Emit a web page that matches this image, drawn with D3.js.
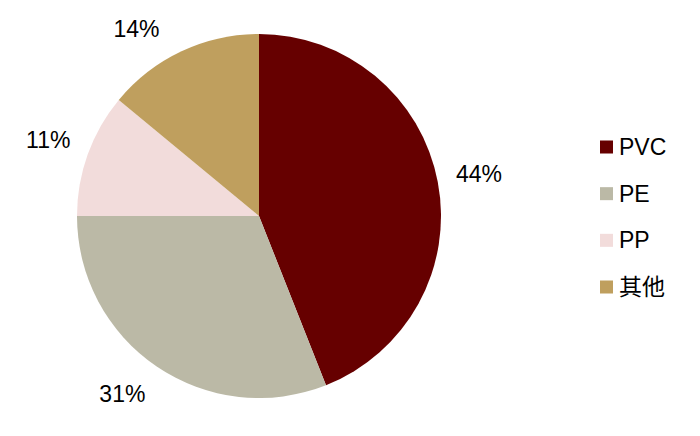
<!DOCTYPE html>
<html>
<head>
<meta charset="utf-8">
<script src="https://cdn.jsdelivr.net/npm/d3@7"></script>
<style>
  body { margin: 0; background: #fff; }
  text { font-family: "Liberation Sans", Arial, "Noto Sans CJK SC", sans-serif; }
</style>
</head>
<body>
<svg id="chart" width="700" height="436"></svg>
<script>
// chart data
var categories = ["PVC", "PE", "PP", "其他"];
var shares = [44, 31, 11, 14];
var colors = ["#660000", "#bbb9a6", "#f2dcdb", "#bf9f5e"];

var svg = d3.select("#chart");
var cx = 259, cy = 216, radius = 182;

var pie = d3.pie().sort(null).value(function(d) { return d; });
var arcs = pie(shares);
var arc = d3.arc().innerRadius(0).outerRadius(radius);

// label centres sit on a circle; slide them round if they would leave the plot area
var labelR = 224, labelTop = 28.5 - cy, labelBottom = 393.5 - cy;
function labelPos(d) {
  var a = (d.startAngle + d.endAngle) / 2;
  var y = -Math.cos(a) * labelR;
  if (y < labelTop || y > labelBottom) {
    y = Math.max(labelTop, Math.min(labelBottom, y));
    var c = -y / labelR, s = Math.sqrt(1 - c * c) * (Math.sin(a) < 0 ? -1 : 1);
    a = Math.atan2(s, c);
  }
  return [Math.sin(a) * labelR, -Math.cos(a) * labelR];
}

var g = svg.append("g").attr("transform", "translate(" + cx + "," + cy + ")");

g.selectAll("path")
  .data(arcs)
  .enter()
  .append("path")
    .attr("d", arc)
    .style("fill", function(d, i) { return colors[i]; });

g.selectAll("text.lbl")
  .data(arcs)
  .enter()
  .append("text")
    .attr("class", "lbl")
    .attr("transform", function(d) { return "translate(" + labelPos(d) + ")"; })
    .attr("text-anchor", "middle")
    .attr("dy", "0.35em")
    .style("font-size", "23px")
    .text(function(d) { return d.data + "%"; });

// legend
var legendY = d3.scalePoint().domain(categories).range([147, 287]);
var legend = svg.append("g").selectAll("g")
  .data(categories)
  .enter()
  .append("g")
    .attr("transform", function(d) { return "translate(600," + legendY(d) + ")"; });

legend.append("rect")
  .attr("x", 0).attr("y", -6.5)
  .attr("width", 13).attr("height", 13)
  .style("fill", function(d, i) { return colors[i]; });

legend.append("text")
  .attr("x", 19)
  .attr("dy", "0.35em")
  .style("font-size", "23px")
  .text(function(d) { return d; });
</script>
</body>
</html>
